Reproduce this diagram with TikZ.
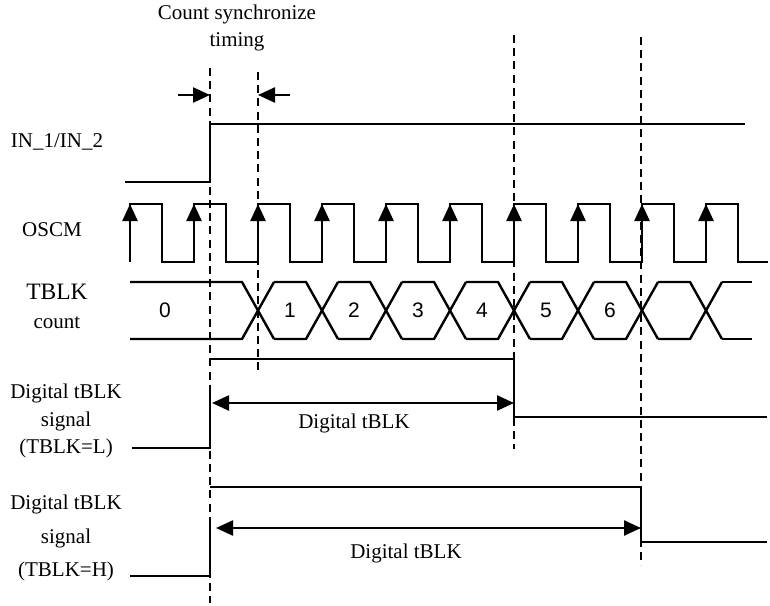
\documentclass[tikz,border=0pt]{standalone}
\usepackage{fontspec}
\setmainfont{Liberation Serif}
\newfontfamily\numfont{Liberation Sans}
\usetikzlibrary{arrows.meta}

\tikzset{
  wave/.style={line width=1.2pt},
  guide/.style={line width=1.3pt,dash pattern=on 4pt off 2.6pt},
  tip/.tip={Triangle[length=8.5pt,width=7.5pt]},
  dimarrow/.style={line width=1.2pt,-tip},
  lbl/.style={font=\fontsize{10.5}{13.5}\selectfont,align=center,inner sep=0pt},
  num/.style={font=\numfont\fontsize{10.5}{12}\selectfont,inner sep=0pt}
}

\begin{document}
\begin{tikzpicture}[x=0.5pt,y=-0.5pt]
  \useasboundingbox (0,0) rectangle (770,605);

  \node[lbl] (sync) at (237,28) {Count synchronize\\timing};
  \node[lbl] (inlbl) at (57,142) {IN\_1/IN\_2};
  \node[lbl] (osclbl) at (52,230) {OSCM};
  \node[lbl,font=\fontsize{11.75}{13}\selectfont] (tblklbl) at (57,292) {TBLK};
  \node[lbl] (cntlbl) at (57,323) {count};
  \node[lbl,font=\fontsize{10.5}{13.75}\selectfont] (siglow) at (66,421) {Digital tBLK\\signal\\(TBLK=L)};
  \node[lbl,font=\fontsize{10.5}{16.75}\selectfont] (sighigh) at (66,538) {Digital tBLK\\signal\\(TBLK=H)};

  \draw[guide] (210,68) -- (210,603);
  \draw[guide] (258,72) -- (258,373);
  \draw[guide] (514,35) -- (514,449);
  \draw[guide] (641,37) -- (641,565);

  \draw[dimarrow] (178,95) -- (210,95);
  \draw[dimarrow] (290,95) -- (258,95);

  \draw[wave] (125,182) -- (210,182) -- (210,124) -- (745,124);

  \draw[wave] (130,262) \foreach \k in {0,...,8} { -- ++(0,-58) -- ++(32,0) -- ++(0,58) -- ++(32,0) }
    -- ++(0,-58) -- ++(32,0) -- ++(0,58) -- ++(30,0);
  \foreach \k in {0,...,9}
    \draw[dimarrow] ({130+64*\k},240) -- ({130+64*\k},204);

  \draw[wave] (130,282) -- (242,282) -- (274,339);
  \draw[wave] (130,339) -- (242,339) -- (274,282);
  \foreach \c in {322,386,450,514,578,642,706} {
    \draw[wave] (\c-48,282) -- (\c-16,282) -- (\c+16,339);
    \draw[wave] (\c-48,339) -- (\c-16,339) -- (\c+16,282);
  }
  \draw[wave] (722,282) -- (752,282);
  \draw[wave] (722,339) -- (752,339);
  \node[num] (cnt0) at (165,310) {0};
  \foreach \n [count=\i] in {1,...,6}
    \node[num] (cnt\n) at ({226+64*\i},310) {\n};

  \draw[wave] (132,448) -- (210,448) -- (210,388);
  \draw[wave] (210,359) -- (514,359) -- (514,417) -- (767,417);
  \draw[dimarrow,tip-tip] (212,403) -- (514,403);
  \node[lbl] (blklow) at (354,423) {Digital tBLK};

  \draw[wave] (130,576) -- (210,576) -- (210,518);
  \draw[wave] (210,487) -- (641,487) -- (641,542) -- (767,542);
  \draw[dimarrow,tip-tip] (216,528) -- (641,528);
  \node[lbl] (blkhigh) at (406,553) {Digital tBLK};
\end{tikzpicture}
\end{document}
